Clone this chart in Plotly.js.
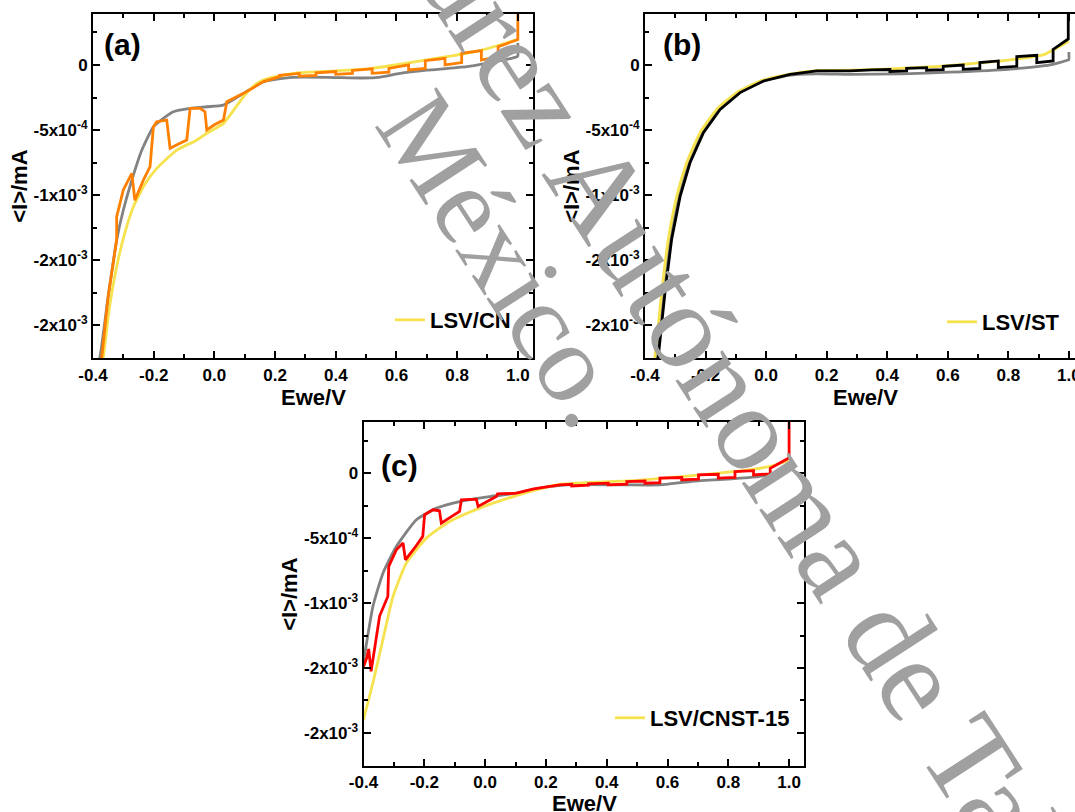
<!DOCTYPE html>
<html>
<head>
<meta charset="utf-8">
<script src="https://cdn.plot.ly/plotly-3.0.1.min.js"></script>
<style>
html,body{margin:0;padding:0;overflow:hidden;background:#fff;}
#chart{width:1090px;height:812px;}
</style>
</head>
<body>
<div id="chart"></div>
<script>
// ---------- tick labels ----------
const eTickVals = [-0.4, -0.2, 0.0, 0.2, 0.4, 0.6, 0.8, 1.0];
const eTickText = ['-0.4', '-0.2', '0.0', '0.2', '0.4', '0.6', '0.8', '1.0'];
const iTickVals = [0, -5e-4, -1e-3, -1.5e-3, -2e-3];
const iTickText = ['0', '-5x10<sup>-4</sup>', '-1x10<sup>-3</sup>', '-2x10<sup>-3</sup>', '-2x10<sup>-3</sup>'];
const xTitle = 'Ewe/V';
const yTitle = '&lt;I&gt;/mA';

// ---------- panel (a): CN ----------
const cnRefE = [-0.385, -0.377, -0.350, -0.322, -0.300, -0.272, -0.239, -0.201, -0.168, -0.135, -0.080, -0.025, 0.030, 0.096, 0.162, 0.202, 0.259, 0.372, 0.486, 0.542, 0.612, 0.700, 0.832, 0.942, 0.997, 1.0, 1.0];
const cnRefI = [-2.30e-3, -2.244e-3, -1.78e-3, -1.346e-3, -1.115e-3, -8.85e-4, -6.54e-4, -4.75e-4, -4.1e-4, -3.59e-4, -3.33e-4, -3.21e-4, -3.08e-4, -2.18e-4, -1.28e-4, -1.10e-4, -9.5e-5, -9.5e-5, -1.0e-4, -9.5e-5, -6.4e-5, -4.0e-5, -1.3e-5, 3.3e-5, 6.4e-5, 7.0e-5, 1.7e-4];

const cnLsvE = [-0.372, -0.366, -0.345, -0.322, -0.295, -0.267, -0.230, -0.190, -0.124, -0.060, -0.025, 0.030, 0.096, 0.140, 0.180, 0.283, 0.400, 0.519, 0.645, 0.766, 0.882, 0.986, 1.0];
const cnLsvI = [-2.30e-3, -2.244e-3, -1.85e-3, -1.55e-3, -1.29e-3, -1.09e-3, -9.2e-4, -7.95e-4, -6.54e-4, -5.8e-4, -5.25e-4, -4.49e-4, -2.44e-4, -1.41e-4, -1.0e-4, -5.9e-5, -4.5e-5, -2.6e-5, 1.8e-5, 6.4e-5, 1.15e-4, 1.87e-4, 1.95e-4];

const cnChopE = [-0.380, -0.371, -0.350, -0.322, -0.322, -0.300, -0.272, -0.262, -0.234, -0.212, -0.201, -0.190, -0.157, -0.146, -0.120, -0.091, -0.080, -0.047, -0.031, -0.025, 0.000, 0.030, 0.041, 0.096, 0.162, 0.215, 0.215, 0.280, 0.280, 0.335, 0.335, 0.400, 0.400, 0.455, 0.455, 0.520, 0.520, 0.575, 0.575, 0.640, 0.640, 0.695, 0.695, 0.760, 0.760, 0.815, 0.815, 0.880, 0.880, 0.935, 0.935, 0.995, 1.0, 1.0];
const cnChopI = [-2.30e-3, -2.244e-3, -1.78e-3, -1.346e-3, -1.167e-3, -9.6e-4, -8.33e-4, -1.04e-3, -8.85e-4, -7.82e-4, -4.75e-4, -4.36e-4, -4.23e-4, -6.41e-4, -6.1e-4, -5.77e-4, -3.33e-4, -3.33e-4, -3.59e-4, -5.0e-4, -4.6e-4, -4.23e-4, -2.82e-4, -2.18e-4, -1.28e-4, -9.0e-5, -8.0e-5, -6.5e-5, -8.5e-5, -8.0e-5, -6.0e-5, -5.0e-5, -7.2e-5, -6.5e-5, -4.2e-5, -3.0e-5, -6.4e-5, -5.5e-5, -2.6e-5, 0, -3.8e-5, -2.6e-5, 3.3e-5, 5.1e-5, 0, 1.8e-5, 9.0e-5, 1.1e-4, 3.8e-5, 6.4e-5, 1.41e-4, 1.87e-4, 1.95e-4, 4.5e-4];

// ---------- panel (b): ST ----------
const stRefE = [-0.364, -0.360, -0.338, -0.316, -0.288, -0.255, -0.211, -0.156, -0.090, -0.013, 0.075, 0.167, 0.277, 0.450, 0.607, 0.800, 0.938, 0.998, 1.0, 1.0];
const stRefI = [-2.30e-3, -2.24e-3, -1.75e-3, -1.34e-3, -1.01e-3, -7.5e-4, -5.2e-4, -3.41e-4, -2.12e-4, -1.28e-4, -8.0e-5, -6.8e-5, -7.2e-5, -6.8e-5, -5.5e-5, -3.3e-5, 0, 3.8e-5, 4.0e-5, 1.0e-4];

const stLsvE = [-0.372, -0.367, -0.345, -0.323, -0.295, -0.262, -0.218, -0.163, -0.097, -0.020, 0.079, 0.167, 0.277, 0.550, 0.800, 0.920, 0.990, 1.0];
const stLsvI = [-2.30e-3, -2.24e-3, -1.75e-3, -1.34e-3, -1.01e-3, -7.5e-4, -5.2e-4, -3.41e-4, -2.12e-4, -1.23e-4, -7.0e-5, -4.3e-5, -4.0e-5, -1.3e-5, 3.8e-5, 8.2e-5, 1.7e-4, 1.8e-4];

const stChopE = [-0.360, -0.356, -0.334, -0.312, -0.284, -0.251, -0.207, -0.152, -0.086, -0.009, 0.079, 0.167, 0.244, 0.277, 0.350, 0.409, 0.409, 0.464, 0.464, 0.530, 0.530, 0.585, 0.585, 0.651, 0.651, 0.706, 0.706, 0.767, 0.767, 0.828, 0.828, 0.894, 0.894, 0.948, 0.948, 0.990, 0.998, 0.998];
const stChopI = [-2.30e-3, -2.24e-3, -1.75e-3, -1.34e-3, -1.01e-3, -7.5e-4, -5.2e-4, -3.41e-4, -2.12e-4, -1.23e-4, -7.2e-5, -4.6e-5, -4.6e-5, -4.6e-5, -3.8e-5, -3.5e-5, -5.0e-5, -4.5e-5, -2.6e-5, -2.0e-5, -4.0e-5, -3.5e-5, -1.0e-5, 0, -3.3e-5, -2.6e-5, 1.8e-5, 3.1e-5, -2.0e-5, -1.0e-5, 6.4e-5, 7.5e-5, 1.8e-5, 3.1e-5, 1.2e-4, 1.85e-4, 2.0e-4, 4.5e-4];

// ---------- panel (c): CNST-15 ----------
const cnstRefE = [-0.400, -0.397, -0.369, -0.336, -0.292, -0.226, -0.160, -0.084, 0.015, 0.103, 0.180, 0.268, 0.456, 0.575, 0.675, 0.800, 0.900, 0.965, 0.993, 0.998, 0.998];
const cnstRefI = [-1.45e-3, -1.41e-3, -1.026e-3, -7.7e-4, -5.65e-4, -3.59e-4, -2.69e-4, -2.18e-4, -1.8e-4, -1.54e-4, -1.15e-4, -9.0e-5, -9.0e-5, -9.0e-5, -6.4e-5, -4.5e-5, -2.6e-5, 0, 2.6e-5, 3.0e-5, 9.0e-5];

const cnstLsvE = [-0.400, -0.397, -0.369, -0.336, -0.303, -0.259, -0.193, -0.117, -0.018, 0.092, 0.180, 0.250, 0.500, 0.700, 0.880, 0.950, 1.000];
const cnstLsvI = [-1.90e-3, -1.87e-3, -1.615e-3, -1.28e-3, -9.5e-4, -6.92e-4, -5.0e-4, -3.72e-4, -2.69e-4, -1.8e-4, -1.2e-4, -8.5e-5, -5.5e-5, -1.5e-5, 3.0e-5, 6.0e-5, 1.0e-4];

const cnstChopE = [-0.400, -0.389, -0.383, -0.375, -0.347, -0.320, -0.317, -0.292, -0.270, -0.262, -0.230, -0.205, -0.199, -0.172, -0.150, -0.144, -0.115, -0.084, -0.078, -0.029, -0.023, 0.037, 0.041, 0.103, 0.160, 0.246, 0.285, 0.285, 0.340, 0.340, 0.405, 0.405, 0.466, 0.466, 0.526, 0.526, 0.575, 0.575, 0.647, 0.647, 0.702, 0.702, 0.767, 0.767, 0.822, 0.822, 0.883, 0.883, 0.938, 0.938, 0.998, 1.0, 1.0];
const cnstChopI = [-1.49e-3, -1.42e-3, -1.354e-3, -1.526e-3, -1.10e-3, -9.5e-4, -7.18e-4, -5.9e-4, -5.38e-4, -6.67e-4, -5.7e-4, -4.87e-4, -3.21e-4, -2.82e-4, -2.9e-4, -3.85e-4, -3.4e-4, -2.95e-4, -2.05e-4, -2.0e-4, -2.56e-4, -1.8e-4, -1.6e-4, -1.54e-4, -1.2e-4, -9.0e-5, -8.5e-5, -9.8e-5, -9.3e-5, -8.2e-5, -7.7e-5, -9.0e-5, -8.5e-5, -6.4e-5, -6.0e-5, -7.7e-5, -7.2e-5, -3.8e-5, -3.3e-5, -5.1e-5, -4.6e-5, -1.3e-5, -8e-6, -3.8e-5, -3.3e-5, 1.3e-5, 2.0e-5, -1.3e-5, -5e-6, 3.8e-5, 1.15e-4, 1.15e-4, 4.5e-4];

const legendNames = ['LSV/CN', 'LSV/ST', 'LSV/CNST-15'];
const panelLabels = ['(a)', '(b)', '(c)'];
const watermarkLines = ['Universidad Juárez Autónoma de Tabasco', 'México.'];

// ---------- geometry helpers ----------
const W = 1090, H = 812;
const PX = p => p / W;
const PY = p => 1 - p / H;

const GRAY = '#828282', YEL = '#f6e24e';
const LW = 2.8;

function tr(x, y, color, xa, ya, extra, smooth) {
  return Object.assign({
    type: 'scatter', mode: 'lines', x: x, y: y,
    xaxis: xa, yaxis: ya,
    line: smooth ? {color: color, width: LW, shape: 'spline', smoothing: 0.5} : {color: color, width: LW},
    hoverinfo: 'skip', showlegend: false
  }, extra || {});
}

const data = [
  tr(cnRefE, cnRefI, GRAY, 'x', 'y', null, true),
  tr(cnLsvE, cnLsvI, YEL, 'x', 'y', {name: legendNames[0], showlegend: true, legend: 'legend'}, true),
  tr(cnChopE, cnChopI, '#ff8000', 'x', 'y'),
  tr(stRefE, stRefI, GRAY, 'x2', 'y2', null, true),
  tr(stLsvE, stLsvI, YEL, 'x2', 'y2', {name: legendNames[1], showlegend: true, legend: 'legend2'}, true),
  tr(stChopE, stChopI, '#000000', 'x2', 'y2'),
  tr(cnstRefE, cnstRefI, GRAY, 'x3', 'y3', null, true),
  tr(cnstLsvE, cnstLsvI, YEL, 'x3', 'y3', {name: legendNames[2], showlegend: true, legend: 'legend3'}, true),
  tr(cnstChopE, cnstChopI, '#ff0000', 'x3', 'y3')
];

const FONT = 'Liberation Sans, Arial, sans-serif';
const titleFont = {family: FONT, size: 22, weight: 'bold', color: '#000'};

function xAxis(domain, anchor) {
  return {
    domain: domain, anchor: anchor, range: [-0.4, 1.05], autorange: false,
    tickmode: 'array', tickvals: eTickVals, ticktext: eTickText,
    ticks: 'inside', ticklen: 7, tickwidth: 2, tickcolor: '#000',
    showline: true, linewidth: 2, linecolor: '#000', mirror: 'allticks',
    showgrid: false, zeroline: false, automargin: false,
    tickfont: {family: FONT, size: 17, weight: 'bold', color: '#000'},
    minor: {tickmode: 'linear', tick0: -0.4, dtick: 0.1, ticks: 'inside', ticklen: 4, tickwidth: 2, tickcolor: '#000', showgrid: false},
    title: {text: ''}
  };
}
function yAxis(domain, anchor) {
  return {
    domain: domain, anchor: anchor, range: [-0.002255, 0.000392], autorange: false,
    tickmode: 'array', tickvals: iTickVals, ticktext: iTickText,
    ticks: 'inside', ticklen: 7, tickwidth: 2, tickcolor: '#000',
    showline: true, linewidth: 2, linecolor: '#000', mirror: 'allticks',
    showgrid: false, zeroline: false, automargin: false,
    tickfont: {family: FONT, size: 17, weight: 'bold', color: '#000'},
    minor: {tickmode: 'linear', tick0: 0, dtick: 2.5e-4, ticks: 'inside', ticklen: 4, tickwidth: 2, tickcolor: '#000', showgrid: false},
    title: {text: yTitle, font: titleFont, standoff: 0}
  };
}
function legendAt(leftPx, midPy) {
  return {
    x: PX(leftPx), xanchor: 'left', y: PY(midPy), yanchor: 'middle',
    bgcolor: 'rgba(0,0,0,0)', borderwidth: 0,
    font: {family: FONT, size: 22, weight: 'bold', color: '#000'}
  };
}
function paperText(text, px, py, font, extra) {
  return Object.assign({text: text, x: PX(px), y: PY(py), xref: 'paper', yref: 'paper',
    showarrow: false, font: font, xanchor: 'center', yanchor: 'middle'}, extra || {});
}

const annFont = {family: FONT, size: 30, weight: 'bold', color: '#000'};
const wmFont1 = {family: 'Liberation Serif, Times New Roman, serif', size: 122, color: '#a0a0a0'};
const wmFont2 = {family: 'Liberation Serif, Times New Roman, serif', size: 112, color: '#a0a0a0'};
const annotations = [
  paperText(panelLabels[0], 122, 45, annFont),
  paperText(panelLabels[1], 682, 45, annFont),
  paperText(panelLabels[2], 399, 465, annFont),
  paperText(xTitle, 313, 397, titleFont),
  paperText(xTitle, 865, 397, titleFont),
  paperText(xTitle, 584, 803, titleFont),
  paperText(watermarkLines[0], 610, 203, wmFont1, {textangle: 57}),
  paperText(watermarkLines[1], 506, 259, wmFont2, {textangle: 57})
];

const layout = {
  width: W, height: H, autosize: false,
  margin: {l: 0, r: 0, t: 0, b: 0, pad: 0},
  paper_bgcolor: '#fff', plot_bgcolor: '#fff',
  font: {family: FONT, color: '#000'},
  showlegend: true,
  xaxis: xAxis([PX(93), PX(533)], 'y'),
  yaxis: yAxis([PY(358.3), PY(14)], 'x'),
  xaxis2: xAxis([PX(645), PX(1084)], 'y2'),
  yaxis2: yAxis([PY(358.3), PY(14)], 'x2'),
  xaxis3: xAxis([PX(363.5), PX(804.3)], 'y3'),
  yaxis3: yAxis([PY(766), PY(422.3)], 'x3'),
  legend: legendAt(390, 320),
  legend2: legendAt(942, 322),
  legend3: legendAt(610, 718),
  annotations: annotations
};

Plotly.newPlot('chart', data, layout, {staticPlot: true, displayModeBar: false, responsive: false});
</script>
</body>
</html>
